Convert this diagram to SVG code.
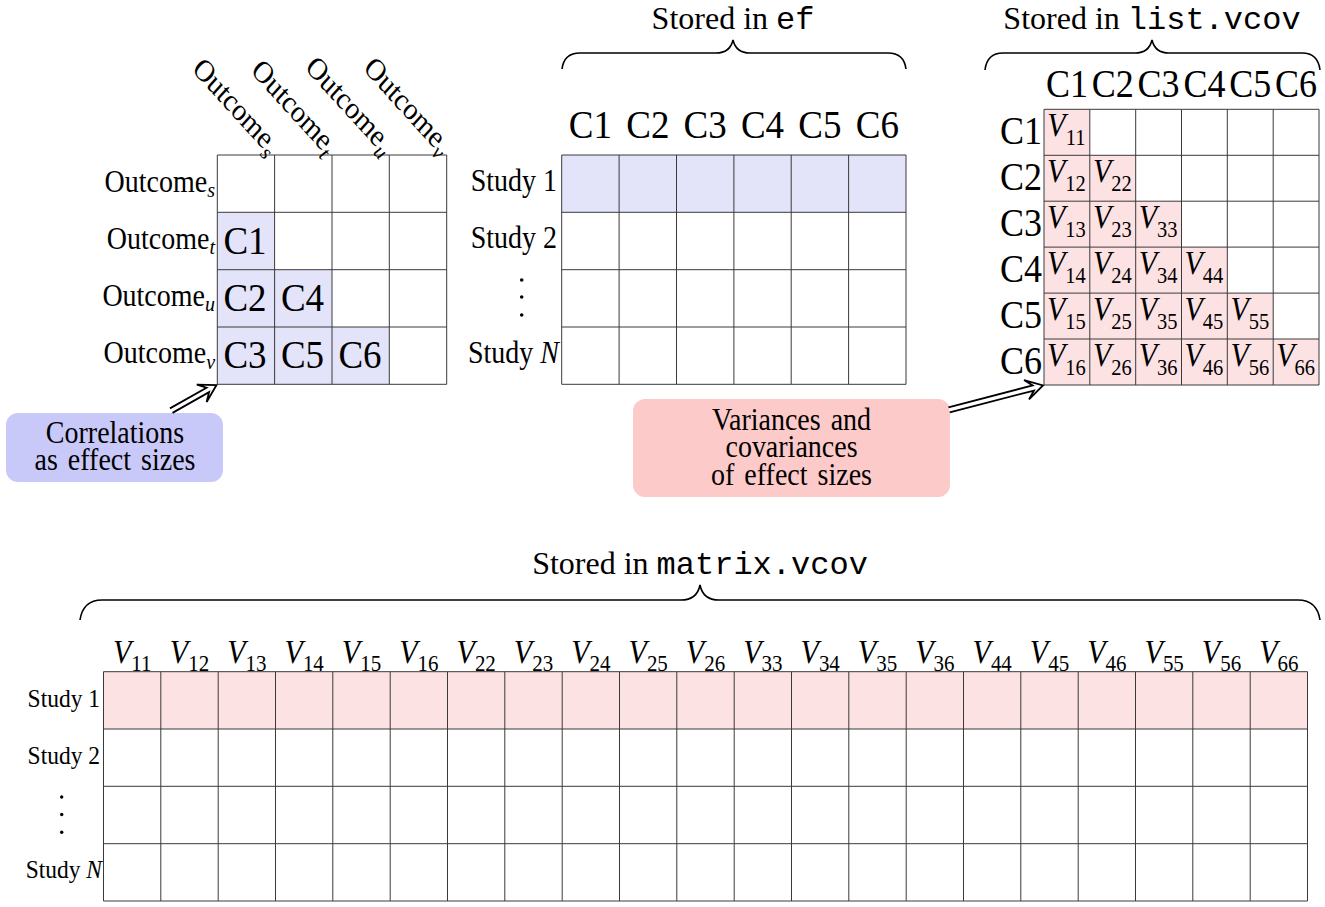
<svg xmlns="http://www.w3.org/2000/svg" width="1325" height="907" viewBox="0 0 1325 907">
<defs>
<style>
.t{font-family:"Liberation Serif","Times New Roman",serif;fill:#000}
.m{font-family:"Liberation Mono","Courier New",monospace}
.f28{font-size:28px}
.f23{font-size:23.5px}
.f32{font-size:32px}
.f36{font-size:36px}
.f37{font-size:37px}
.it{font-style:italic}
.sub{font-size:20px;font-style:italic}
.vs{font-size:20.5px;font-style:normal}
.vs2{font-size:21px;font-style:normal}
.grid{fill:none;stroke:#3a3a3a;stroke-width:1}
.blue{fill:#e3e3fa}
.pink{fill:#fde2e4}
.brace{fill:none;stroke:#000;stroke-width:1.6}
.arr{fill:#fff;stroke:#000;stroke-width:1.8;stroke-linejoin:miter}
</style>
</defs>
<rect width="1325" height="907" fill="#fff"/>

<!-- correlation matrix -->
<g id="corr-matrix">
<path class="blue" d="M217.3,212.3 H274.6 V269.7 H332 V327 H389.3 V384.3 H217.3 Z"/>
<path class="grid" d="M217.3,155 H446.7 M217.3,212.3 H446.7 M217.3,269.7 H446.7 M217.3,327 H446.7 M217.3,384.3 H446.7 M217.3,155 V384.3 M274.6,155 V384.3 M332,155 V384.3 M389.3,155 V384.3 M446.7,155 V384.3"/>
<g class="t f28">
<text transform="translate(269,156) scale(1,1.1) rotate(45)" text-anchor="end">Outcome<tspan class="sub" dy="6">s</tspan></text>
<text transform="translate(326.3,156) scale(1,1.1) rotate(45)" text-anchor="end">Outcome<tspan class="sub" dy="6">t</tspan></text>
<text transform="translate(383.7,156) scale(1,1.1) rotate(45)" text-anchor="end">Outcome<tspan class="sub" dy="6">u</tspan></text>
<text transform="translate(441,156) scale(1,1.1) rotate(45)" text-anchor="end">Outcome<tspan class="sub" dy="6">v</tspan></text>
<text transform="translate(215,191.7) scale(1,1.1)" text-anchor="end">Outcome<tspan class="sub" dy="5">s</tspan></text>
<text transform="translate(215,248.5) scale(1,1.1)" text-anchor="end">Outcome<tspan class="sub" dy="5">t</tspan></text>
<text transform="translate(215,305.5) scale(1,1.1)" text-anchor="end">Outcome<tspan class="sub" dy="5">u</tspan></text>
<text transform="translate(215,363) scale(1,1.1)" text-anchor="end">Outcome<tspan class="sub" dy="5">v</tspan></text>
</g>
<g class="t f37" text-anchor="middle">
<text transform="translate(245,253.7) scale(1,1.1)">C1</text>
<text transform="translate(245,310.5) scale(1,1.1)">C2</text>
<text transform="translate(302.5,310.5) scale(1,1.1)">C4</text>
<text transform="translate(245,368) scale(1,1.1)">C3</text>
<text transform="translate(302.5,368) scale(1,1.1)">C5</text>
<text transform="translate(360,368) scale(1,1.1)">C6</text>
</g>
</g>

<!-- correlations box -->
<g id="corr-box">
<rect x="6" y="413" width="217" height="69" rx="12" fill="#c9c9f9"/>
<text class="t f28" transform="translate(115,443) scale(1,1.1)" text-anchor="middle" word-spacing="3"><tspan x="0" y="0">Correlations</tspan><tspan x="0" y="24.5">as effect sizes</tspan></text>
</g>

<!-- ef matrix -->
<g id="ef-matrix">
<text class="t f32" x="733" y="29" text-anchor="middle">Stored in <tspan class="m">ef</tspan></text>
<path class="brace" d="M562,69 Q564,53 580,53 L716,53 Q730,53 733,40 Q736,53 750,53 L888,53 Q904,53 906,69"/>
<rect class="blue" x="561.7" y="155" width="344.3" height="57.3"/>
<path class="grid" d="M561.7,155 H906 M561.7,212.3 H906 M561.7,269.7 H906 M561.7,327 H906 M561.7,384.3 H906 M561.7,155 V384.3 M619.1,155 V384.3 M676.5,155 V384.3 M733.9,155 V384.3 M791.2,155 V384.3 M848.6,155 V384.3 M906,155 V384.3"/>
<g class="t f37" text-anchor="middle">
<text transform="translate(590.4,138) scale(1,1.1)">C1</text>
<text transform="translate(647.8,138) scale(1,1.1)">C2</text>
<text transform="translate(705.2,138) scale(1,1.1)">C3</text>
<text transform="translate(762.5,138) scale(1,1.1)">C4</text>
<text transform="translate(819.9,138) scale(1,1.1)">C5</text>
<text transform="translate(877.3,138) scale(1,1.1)">C6</text>
</g>
<g class="t f28" text-anchor="end">
<text transform="translate(557,191) scale(1,1.1)">Study 1</text>
<text transform="translate(557,248) scale(1,1.1)">Study 2</text>
<text transform="translate(559,363) scale(1,1.1)">Study <tspan class="it">N</tspan></text>
</g>
<circle cx="521.7" cy="280" r="1.8"/>
<circle cx="521.7" cy="297" r="1.8"/>
<circle cx="521.7" cy="315" r="1.8"/>
</g>

<!-- list.vcov matrix -->
<g id="list-vcov-matrix">
<text class="t f32" x="1152" y="29" text-anchor="middle">Stored in <tspan class="m">list.vcov</tspan></text>
<path class="brace" d="M985,70 Q987,53 1003,53 L1135,53 Q1149,53 1152,40 Q1155,53 1169,53 L1302,53 Q1318,53 1320,70"/>
<path class="pink" d="M1044,109.3 H1089.8 V155.3 H1135.7 V201.2 H1181.5 V247.1 H1227.3 V293.1 H1273.2 V339 H1319 V385 H1044 Z"/>
<path class="grid" d="M1044,109.3 H1319 M1044,155.3 H1319 M1044,201.2 H1319 M1044,247.1 H1319 M1044,293.1 H1319 M1044,339 H1319 M1044,385 H1319 M1044,109.3 V385 M1089.8,109.3 V385 M1135.7,109.3 V385 M1181.5,109.3 V385 M1227.3,109.3 V385 M1273.2,109.3 V385 M1319,109.3 V385"/>
<g class="t f36" text-anchor="middle">
<text transform="translate(1066.9,96.7) scale(1,1.1)">C1</text>
<text transform="translate(1112.8,96.7) scale(1,1.1)">C2</text>
<text transform="translate(1158.6,96.7) scale(1,1.1)">C3</text>
<text transform="translate(1204.4,96.7) scale(1,1.1)">C4</text>
<text transform="translate(1250.3,96.7) scale(1,1.1)">C5</text>
<text transform="translate(1296.1,96.7) scale(1,1.1)">C6</text>
</g>
<g class="t f36" text-anchor="end">
<text transform="translate(1042,144) scale(1,1.1)">C1</text>
<text transform="translate(1042,190) scale(1,1.1)">C2</text>
<text transform="translate(1042,236) scale(1,1.1)">C3</text>
<text transform="translate(1042,282) scale(1,1.1)">C4</text>
<text transform="translate(1042,328) scale(1,1.1)">C5</text>
<text transform="translate(1042,373.5) scale(1,1.1)">C6</text>
</g>
<g class="t it" style="font-size:30px" text-anchor="middle">
<text transform="translate(1066.4,136.3) scale(1,1.1)">V<tspan class="vs" dy="8">11</tspan></text>
<text transform="translate(1066.4,182.3) scale(1,1.1)">V<tspan class="vs" dy="8">12</tspan></text>
<text transform="translate(1112.3,182.3) scale(1,1.1)">V<tspan class="vs" dy="8">22</tspan></text>
<text transform="translate(1066.4,228.2) scale(1,1.1)">V<tspan class="vs" dy="8">13</tspan></text>
<text transform="translate(1112.3,228.2) scale(1,1.1)">V<tspan class="vs" dy="8">23</tspan></text>
<text transform="translate(1158.1,228.2) scale(1,1.1)">V<tspan class="vs" dy="8">33</tspan></text>
<text transform="translate(1066.4,274.1) scale(1,1.1)">V<tspan class="vs" dy="8">14</tspan></text>
<text transform="translate(1112.3,274.1) scale(1,1.1)">V<tspan class="vs" dy="8">24</tspan></text>
<text transform="translate(1158.1,274.1) scale(1,1.1)">V<tspan class="vs" dy="8">34</tspan></text>
<text transform="translate(1203.9,274.1) scale(1,1.1)">V<tspan class="vs" dy="8">44</tspan></text>
<text transform="translate(1066.4,320.1) scale(1,1.1)">V<tspan class="vs" dy="8">15</tspan></text>
<text transform="translate(1112.3,320.1) scale(1,1.1)">V<tspan class="vs" dy="8">25</tspan></text>
<text transform="translate(1158.1,320.1) scale(1,1.1)">V<tspan class="vs" dy="8">35</tspan></text>
<text transform="translate(1203.9,320.1) scale(1,1.1)">V<tspan class="vs" dy="8">45</tspan></text>
<text transform="translate(1249.8,320.1) scale(1,1.1)">V<tspan class="vs" dy="8">55</tspan></text>
<text transform="translate(1066.4,366) scale(1,1.1)">V<tspan class="vs" dy="8">16</tspan></text>
<text transform="translate(1112.3,366) scale(1,1.1)">V<tspan class="vs" dy="8">26</tspan></text>
<text transform="translate(1158.1,366) scale(1,1.1)">V<tspan class="vs" dy="8">36</tspan></text>
<text transform="translate(1203.9,366) scale(1,1.1)">V<tspan class="vs" dy="8">46</tspan></text>
<text transform="translate(1249.8,366) scale(1,1.1)">V<tspan class="vs" dy="8">56</tspan></text>
<text transform="translate(1295.6,366) scale(1,1.1)">V<tspan class="vs" dy="8">66</tspan></text>
</g>
</g>

<!-- variance box -->
<g id="vcov-box">
<rect x="633" y="399" width="317" height="98" rx="12" fill="#fdcaca"/>
<text class="t f28" transform="translate(791.5,430) scale(1,1.1)" text-anchor="middle" word-spacing="3"><tspan x="0" y="0">Variances and</tspan><tspan x="0" y="24.8">covariances</tspan><tspan x="0" y="50">of effect sizes</tspan></text>
</g>

<!-- matrix.vcov -->
<g id="matrix-vcov">
<text class="t f32" x="700" y="574" text-anchor="middle">Stored in <tspan class="m">matrix.vcov</tspan></text>
<path class="brace" d="M80,620 Q83,600 102,600 L681,600 Q697,600 700,585 Q703,600 719,600 L1298,600 Q1317,600 1320,620"/>
<rect class="pink" x="103.5" y="671.7" width="1204" height="57.3"/>
<path class="grid" d="M103.5,671.7 H1307.5 M103.5,729 H1307.5 M103.5,786.3 H1307.5 M103.5,843.7 H1307.5 M103.5,901 H1307.5 M103.5,671.7 V901 M160.8,671.7 V901 M218.2,671.7 V901 M275.5,671.7 V901 M332.8,671.7 V901 M390.2,671.7 V901 M447.5,671.7 V901 M504.8,671.7 V901 M562.2,671.7 V901 M619.5,671.7 V901 M676.8,671.7 V901 M734.2,671.7 V901 M791.5,671.7 V901 M848.8,671.7 V901 M906.2,671.7 V901 M963.5,671.7 V901 M1020.8,671.7 V901 M1078.2,671.7 V901 M1135.5,671.7 V901 M1192.8,671.7 V901 M1250.2,671.7 V901 M1307.5,671.7 V901"/>
<g class="t it" style="font-size:30px" text-anchor="middle">
<text transform="translate(132.2,663) scale(1,1.1)">V<tspan class="vs2" dy="7">11</tspan></text>
<text transform="translate(189.5,663) scale(1,1.1)">V<tspan class="vs2" dy="7">12</tspan></text>
<text transform="translate(246.8,663) scale(1,1.1)">V<tspan class="vs2" dy="7">13</tspan></text>
<text transform="translate(304.2,663) scale(1,1.1)">V<tspan class="vs2" dy="7">14</tspan></text>
<text transform="translate(361.5,663) scale(1,1.1)">V<tspan class="vs2" dy="7">15</tspan></text>
<text transform="translate(418.8,663) scale(1,1.1)">V<tspan class="vs2" dy="7">16</tspan></text>
<text transform="translate(476.2,663) scale(1,1.1)">V<tspan class="vs2" dy="7">22</tspan></text>
<text transform="translate(533.5,663) scale(1,1.1)">V<tspan class="vs2" dy="7">23</tspan></text>
<text transform="translate(590.8,663) scale(1,1.1)">V<tspan class="vs2" dy="7">24</tspan></text>
<text transform="translate(648.2,663) scale(1,1.1)">V<tspan class="vs2" dy="7">25</tspan></text>
<text transform="translate(705.5,663) scale(1,1.1)">V<tspan class="vs2" dy="7">26</tspan></text>
<text transform="translate(762.8,663) scale(1,1.1)">V<tspan class="vs2" dy="7">33</tspan></text>
<text transform="translate(820.2,663) scale(1,1.1)">V<tspan class="vs2" dy="7">34</tspan></text>
<text transform="translate(877.5,663) scale(1,1.1)">V<tspan class="vs2" dy="7">35</tspan></text>
<text transform="translate(934.8,663) scale(1,1.1)">V<tspan class="vs2" dy="7">36</tspan></text>
<text transform="translate(992.2,663) scale(1,1.1)">V<tspan class="vs2" dy="7">44</tspan></text>
<text transform="translate(1049.5,663) scale(1,1.1)">V<tspan class="vs2" dy="7">45</tspan></text>
<text transform="translate(1106.8,663) scale(1,1.1)">V<tspan class="vs2" dy="7">46</tspan></text>
<text transform="translate(1164.2,663) scale(1,1.1)">V<tspan class="vs2" dy="7">55</tspan></text>
<text transform="translate(1221.5,663) scale(1,1.1)">V<tspan class="vs2" dy="7">56</tspan></text>
<text transform="translate(1278.8,663) scale(1,1.1)">V<tspan class="vs2" dy="7">66</tspan></text>
</g>
<g class="t f23" text-anchor="end">
<text transform="translate(100,707) scale(1,1.1)">Study 1</text>
<text transform="translate(100,764) scale(1,1.1)">Study 2</text>
<text transform="translate(102,877.5) scale(1,1.1)">Study <tspan class="it">N</tspan></text>
</g>
<circle cx="61.7" cy="797" r="1.7"/>
<circle cx="61.7" cy="814.5" r="1.7"/>
<circle cx="61.7" cy="832.3" r="1.7"/>
</g>

<!-- connectors -->
<g id="connectors">
<path class="arr" transform="translate(216.5,385) rotate(-29.5)" d="M-52,-2.6 L-10,-2.6 L-17,-10 L0,0 L-17,10 L-10,2.6 L-52,2.6"/>
<path class="arr" transform="translate(1043,385.5) rotate(-14.5)" d="M-97,-2.6 L-10,-2.6 L-17,-10 L0,0 L-17,10 L-10,2.6 L-97,2.6"/>
</g>
</svg>
